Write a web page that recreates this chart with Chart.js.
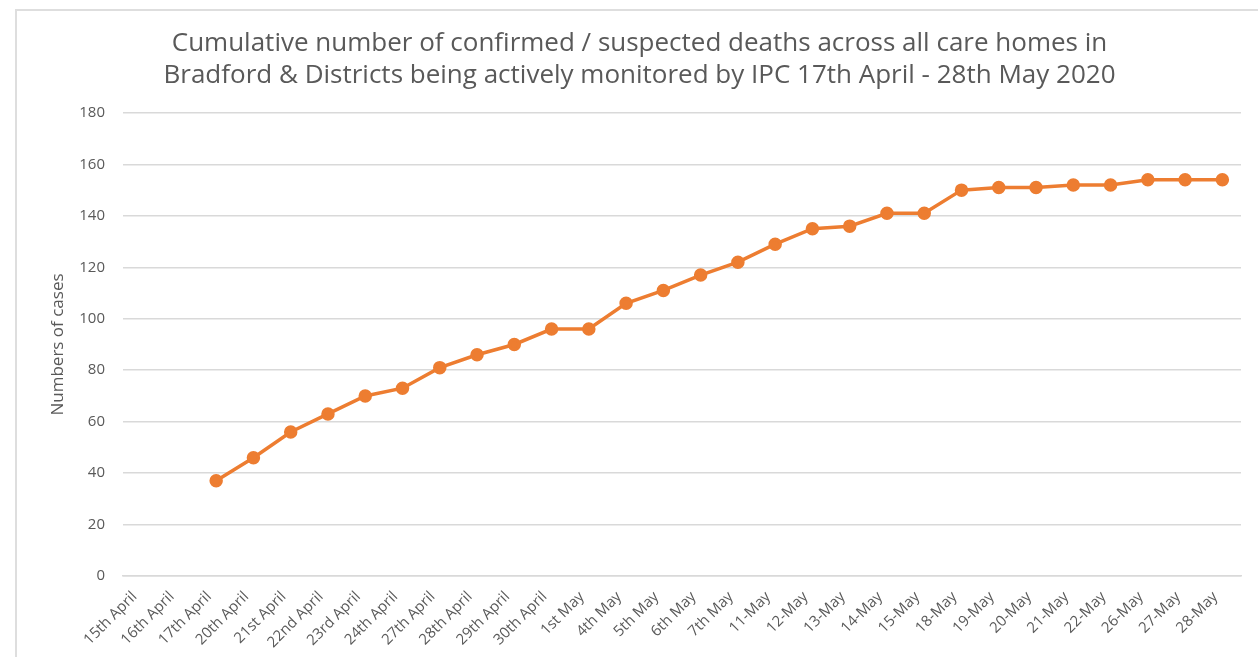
<!DOCTYPE html>
<html>
<head>
<meta charset="utf-8">
<script src="https://cdn.jsdelivr.net/npm/chart.js@4/dist/chart.umd.min.js"></script>
<style>
  html, body { margin: 0; padding: 0; background: #fff; overflow: hidden; }
  #frame { position: absolute; left: 15px; top: 9px; width: 1300px; height: 700px; border: 2px solid #dedede; box-sizing: border-box; }
  #wrap { position: absolute; left: 0; top: 0; width: 1258px; height: 657px; }
</style>
</head>
<body>
<div id="frame"></div>
<div id="wrap"><canvas id="c" width="1258" height="657"></canvas></div>
<script>
const categories = ["15th April","16th April","17th April","20th April","21st April","22nd April","23rd April","24th April","27th April","28th April","29th April","30th April","1st May","4th May","5th May","6th May","7th May","11-May","12-May","13-May","14-May","15-May","18-May","19-May","20-May","21-May","22-May","26-May","27-May","28-May"];
const deaths = [null,null,37,46,56,63,70,73,81,86,90,96,96,106,111,117,122,129,135,136,141,141,150,151,151,152,152,154,154,154];
const yTicks = [0,20,40,60,80,100,120,140,160,180];
const titleLines = ["Cumulative number of confirmed / suspected deaths across all care homes in","Bradford & Districts being actively monitored by IPC 17th April - 28th May 2020"];
const yTitle = "Numbers of cases";

const textColor = "#595959";
const lineColor = "#ED7D31";
const fontFam = "'Open Sans', 'Liberation Sans', sans-serif";

const shiftTitle = {
  id: 'shiftTitle',
  afterLayout(chart) {
    const t = chart.titleBlock;
    if (t) { t.left += 8; t.right += 8; }
  }
};

new Chart(document.getElementById('c'), {
  type: 'line',
  plugins: [shiftTitle],
  data: {
    labels: categories,
    datasets: [{
      data: deaths,
      borderColor: lineColor,
      backgroundColor: lineColor,
      borderWidth: 3.5,
      pointRadius: 5,
      pointHoverRadius: 5,
      pointBackgroundColor: lineColor,
      pointBorderColor: lineColor,
      tension: 0,
      spanGaps: false
    }]
  },
  options: {
    responsive: false,
    animation: false,
    layout: { padding: { left: 22, right: 17, top: 10, bottom: 0 } },
    plugins: {
      legend: { display: false },
      tooltip: { enabled: false },
      title: {
        display: true,
        text: titleLines,
        color: textColor,
        font: { family: fontFam, size: 26, weight: 'normal', lineHeight: 1.23 },
        padding: { top: 18, bottom: 21 }
      }
    },
    scales: {
      x: {
        offset: true,
        grid: { display: false, drawTicks: false },
        border: { display: true, color: '#d9d9d9', width: 1.5 },
        ticks: {
          color: textColor,
          font: { family: fontFam, size: 15 },
          autoSkip: false,
          minRotation: 45,
          maxRotation: 45,
          padding: 12,
          labelOffset: -7
        },
        afterFit: (s) => { s.height = 81; }
      },
      y: {
        min: 0,
        max: 180,
        afterBuildTicks: (s) => { s.ticks = yTicks.map(v => ({ value: v })); },
        grid: { color: '#d9d9d9', lineWidth: 1.5, drawTicks: false },
        border: { display: false },
        ticks: {
          color: textColor,
          font: { family: fontFam, size: 15 },
          padding: 18
        },
        title: {
          display: true,
          text: yTitle,
          color: textColor,
          font: { family: fontFam, size: 17 },
          padding: { top: 26, bottom: 0 }
        },
        afterFit: (s) => { s.width = 101; }
      }
    }
  }
});
</script>
</body>
</html>
